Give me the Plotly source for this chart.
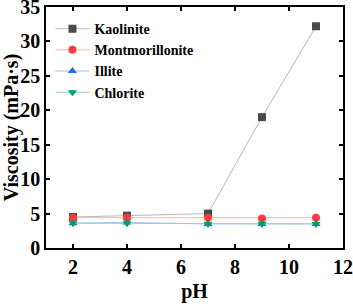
import plotly.graph_objects as go

ph = [2, 4, 7, 9, 11]
kaolinite = [4.5, 4.7, 5.0, 19.0, 32.2]
montmorillonite = [4.4, 4.4, 4.4, 4.3, 4.4]
illite = [3.6, 3.7, 3.5, 3.5, 3.5]
chlorite = [3.6, 3.6, 3.5, 3.5, 3.5]

series = [
    ("Kaolinite", kaolinite, "#4a4a4a", "#b8b8b8", "square"),
    ("Montmorillonite", montmorillonite, "#ff3b3b", "#ffb0b0", "circle"),
    ("Illite", illite, "#1f6fe0", "#9cc2f0", "triangle-up"),
    ("Chlorite", chlorite, "#00a060", "#90d8b8", "triangle-down"),
]

fig = go.Figure()
for name, vals, mc, lc, sym in series:
    fig.add_trace(go.Scatter(
        x=ph, y=vals, name=name, mode="lines+markers",
        line=dict(color=lc, width=1),
        marker=dict(symbol=sym, color=mc, size=8),
    ))

font_family = "Liberation Serif"
fig.update_layout(
    width=353, height=305,
    margin=dict(l=46, r=10, t=7, b=57),
    plot_bgcolor="white", paper_bgcolor="white",
    font=dict(family=font_family, size=18, color="black"),
    showlegend=True,
    legend=dict(
        x=0.015, y=0.975, xanchor="left", yanchor="top",
        bgcolor="rgba(0,0,0,0)", borderwidth=0,
        font=dict(family=font_family, size=14, color="black", weight="bold"),
        tracegroupgap=0, itemwidth=34,
    ),
)
fig.update_xaxes(
    range=[1, 12], tickvals=[2, 4, 6, 8, 10, 12],
    ticks="inside", ticklen=4, tickwidth=1.5, tickcolor="black",
    showline=True, linecolor="black", linewidth=1.5, mirror="ticks",
    showgrid=False, zeroline=False, automargin=False,
    ticklabeloverflow="allow",
    tickfont=dict(family=font_family, size=20, weight="bold"),
    title=dict(text="pH", font=dict(family=font_family, size=20, weight="bold"), standoff=7),
)
fig.update_yaxes(
    range=[0, 35], tickvals=[0, 5, 10, 15, 20, 25, 30, 35],
    ticks="inside", ticklen=4, tickwidth=1.5, tickcolor="black",
    showline=True, linecolor="black", linewidth=1.5, mirror="ticks",
    showgrid=False, zeroline=False, automargin=False,
    ticklabeloverflow="allow",
    tickfont=dict(family=font_family, size=20, weight="bold"),
    title=dict(text="Viscosity (mPa·s)", font=dict(family=font_family, size=20, weight="bold"), standoff=2),
)

fig.write_html("out.html", config={"displayModeBar": False},
               post_script="document.body.style.margin='0';document.body.style.overflow='hidden';")
